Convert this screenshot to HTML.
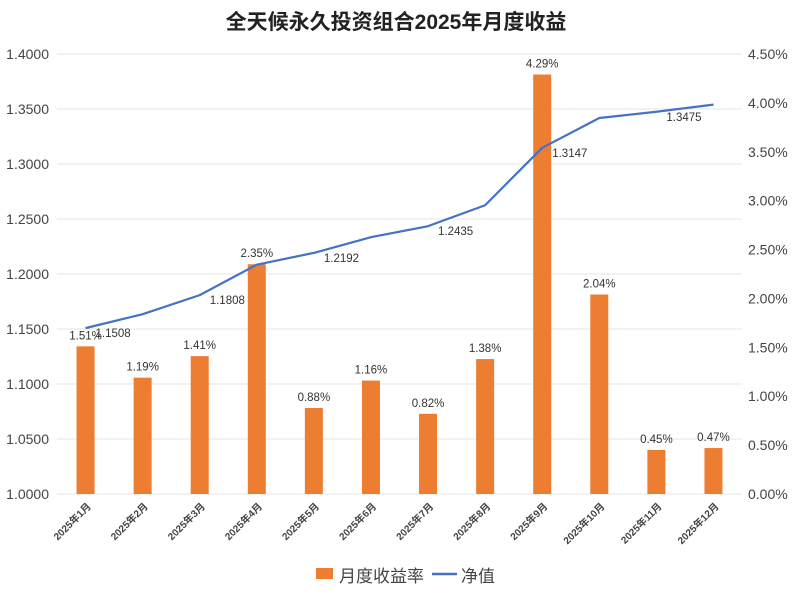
<!DOCTYPE html>
<html><head><meta charset="utf-8"><style>
body{margin:0;background:#fff;}
svg{font-family:"Liberation Sans","Noto Sans CJK SC",sans-serif;}
</style></head><body>
<svg id="c" width="793" height="590" viewBox="0 0 793 590">
<text x="396" y="29" text-anchor="middle" font-size="21" font-weight="bold" fill="#222">全天候永久投资组合2025年月度收益</text>
<g id="grid"></g><g id="bars"></g><g id="line"></g><g id="labels"></g><g id="axes"></g>
<g>
<rect x="316" y="568" width="17" height="11" fill="#ED7D31"/>
<text x="339" y="582" font-size="17" fill="#444">月度收益率</text>
<line x1="432" y1="574" x2="457" y2="574" stroke="#4472C4" stroke-width="2.5"/>
<text x="461" y="582" font-size="17" fill="#444">净值</text>
</g>
</svg>
<script>
const categories=["2025年1月","2025年2月","2025年3月","2025年4月","2025年5月","2025年6月","2025年7月","2025年8月","2025年9月","2025年10月","2025年11月","2025年12月"];
const monthlyReturn=[1.51,1.19,1.41,2.35,0.88,1.16,0.82,1.38,4.29,2.04,0.45,0.47];
const nav=[1.1508,1.1635,1.1808,1.2085,1.2192,1.2335,1.2435,1.2625,1.3147,1.3418,1.3475,1.3540];
const navLabelShown=[true,false,true,false,true,false,true,false,true,false,true,false];
const leftTicks=["1.0000","1.0500","1.1000","1.1500","1.2000","1.2500","1.3000","1.3500","1.4000"];
const rightTicks=["0.00%","0.50%","1.00%","1.50%","2.00%","2.50%","3.00%","3.50%","4.00%","4.50%"];
const NS="http://www.w3.org/2000/svg";
const X0=57,X1=742,Y0=494,Y1=54;
const step=(X1-X0)/categories.length;
const xc=i=>X0+step*(i+0.5);
const yL=v=>Y0-(v-1)/0.4*(Y0-Y1);
const yR=v=>Y0-v/4.5*(Y0-Y1);
function mk(t,a,p){const e=document.createElementNS(NS,t);for(const k in a)e.setAttribute(k,a[k]);p.appendChild(e);return e;}
const grid=document.getElementById('grid'),axes=document.getElementById('axes');
leftTicks.forEach(t=>{const y=yL(parseFloat(t));
const g=mk('line',{x1:X0,x2:X1,y1:y,y2:y,stroke:'#e4e4e4','stroke-width':1},grid);


const e=mk('text',{x:49,y:y+5,'text-anchor':'end','font-size':14,fill:'#444'},axes);e.textContent=t;

});
rightTicks.forEach(t=>{const y=yR(parseFloat(t));
const e=mk('text',{x:748,y:y+5,'font-size':14,fill:'#444'},axes);e.textContent=t;

});
const bars=document.getElementById('bars'),labels=document.getElementById('labels');
monthlyReturn.forEach((v,i)=>{const y=yR(v);
const b=mk('rect',{x:xc(i)-9,y:y,width:18,height:Y0-y,fill:'#ED7D31'},bars);


const t=mk('text',{x:xc(i),y:y-7,'text-anchor':'middle','font-size':11.5,fill:'#333'},labels);t.textContent=v.toFixed(2)+'%';


const c=mk('text',{transform:`translate(${xc(i)+6},${Y0+13}) rotate(-45)`,'text-anchor':'end','font-size':10,'font-weight':'bold',fill:'#444'},axes);c.textContent=categories[i];

});
const pts=nav.map((v,i)=>xc(i)+','+yL(v)).join(' ');
const pl=mk('polyline',{points:pts,fill:'none',stroke:'#4472C4','stroke-width':2.2,'stroke-linejoin':'round'},document.getElementById('line'));


nav.forEach((v,i)=>{if(!navLabelShown[i])return;
const t=mk('text',{x:xc(i)+10,y:yL(v)+9,'font-size':11.5,fill:'#333'},labels);t.textContent=v.toFixed(4);

});
</script>
</body></html>
